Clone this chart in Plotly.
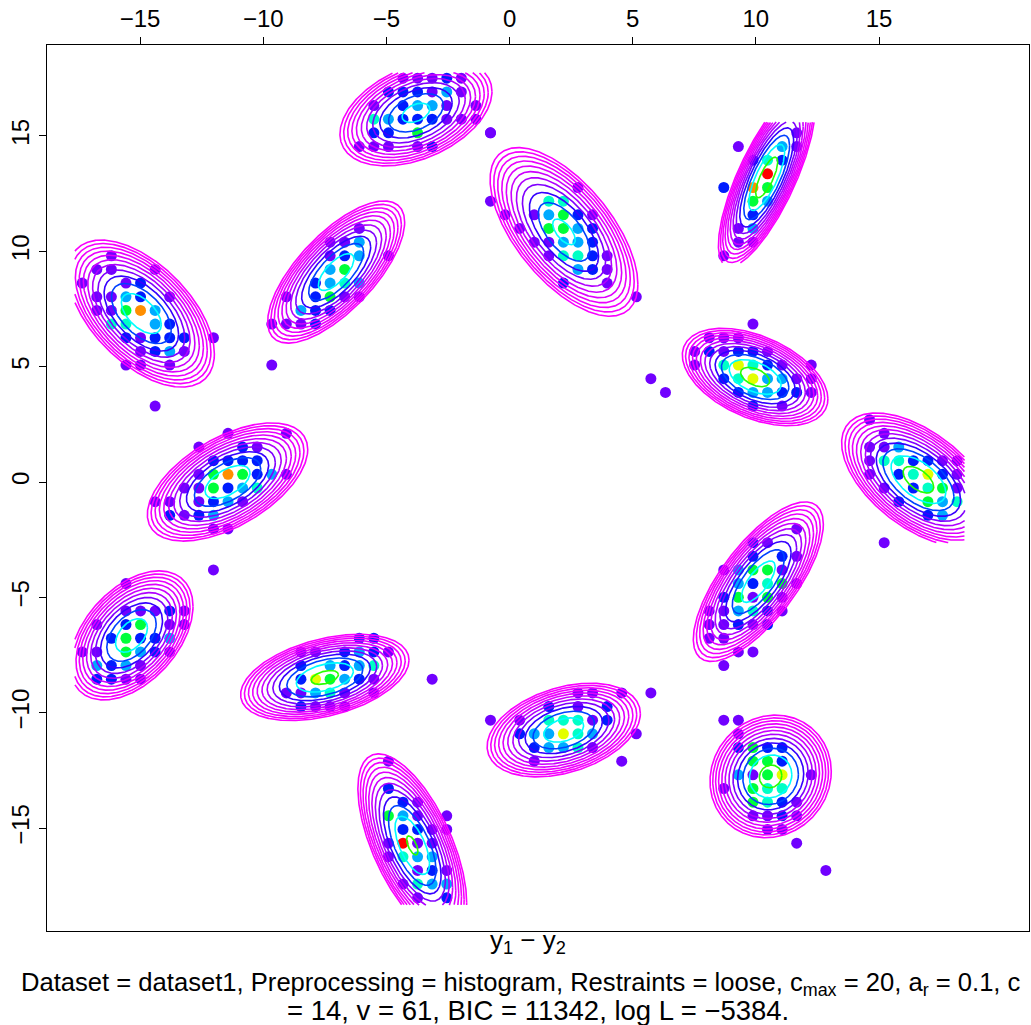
import colorsys
import numpy as np
import plotly.graph_objects as go

# ---------------- histogram (preprocessed data) ----------------
BIN_X0 = -17.35     # centre of column 0
BIN_Y0 = -18.02     # centre of row 0
BIN_W = 0.592       # bin width (both dims)
COUNT_MAX = 9

# each cluster: (first column index, top row index, rows of counts from top row downward)
HIST_A = (0, 47, ["..1.......", ".11..1....", "1..12.....", ".1132.1...", ".11583....",
                  "..44.32...", "...21222.1", "....1231..", "...11.1..."])
HIST_B = (13, 49, ["......1..", "....113..", "....123.1", "....35...", "...2343..",
                   ".1.2511..", "..322....", "1112....."])
HIST_C = (19, 60, ["...11121..", "..222131..", ".1.2331.1.", ".43222111.", ".22.5....1",
                   "111.12...."])
HIST_D = (28, 52, ["......1....", "1...44.....", ".1.13521...", "..1.5532...", "...11332...",
                   "....14421..", "......321..", ".....2..1..", "..........1"])
HIST_E = (44, 56, [".....1", ".1..31", "..242.", "...9..", "2.85..", "..53..", "..2...",
                   ".13...", ".11...", "1....."])
HIST_F = (42, 42, ["....1....", ".111.....", "121221...", "1.47421.1", "..2473311",
                   "...233221", "....2.1.."])
HIST_G = (54, 35, ["1......", ".1.....", "113....", "1442211", "1.24721", ".1.2451",
                   "..2.534", "....23.", ".......", ".1....."])
HIST_H = (5, 34, [".....1...1", "...1..21..", "....2222..", "...1585231", "..115234..",
                  "11.1231...", ".2123.....", "....11...."])
HIST_J = (0, 23, ["...1....", "........", "...11121", ".1.25.11", "..25223.", "11.5321.",
                  ".3231...", ".2211..."])
HIST_K = (14, 19, [".....22.", ".11.2321", ".2.3234.", ".275321.", "11341.1.", ".2111..."])
HIST_L = (28, 15, ["......11.1.", "....2.1.2..", "1.1.44412..", "..233743..1", "...23341...",
                   "...1.....1."])
HIST_M = (43, 27, ["......1", "...21..", "...2.21", ".13551.", "..32451", ".25151.",
                   "113421.", "11212..", "11.....", "..11...", ".1....."])
HIST_N = (21, 10, ["1....", ".....", "2....", ".21..", "531.1", ".2211", "1911.", "1433.",
                   "..121", ".1433", "..1.2"])
HIST_P = (44, 13, ["11......", ".1......", ".2522...", "..552...", ".3157.1.", "1.544...",
                   "..5421..", "..1121..", "...11...", ".....1..", "........", ".......1"])
# isolated bins (count 1)
OUT_I = [5, 13, 28, 39, 40, 9, 24, 39]
OUT_J = [36, 39, 56, 38, 37, 24, 16, 15]

# ---------------- fitted normal components ----------------
COMP_MX = [-14.95, -7.04, -3.8, 2.21, 10.44, 9.97, 16.6, -11.45, -15.35, -7.5, 2.2, 10.1, -3.95, 10.6]
COMP_MY = [7.3, 9.1, 16.0, 10.84, 13.2, 4.55, 0.1, 0.0, -6.65, -8.47, -10.75, -4.32, -15.75, -12.76]
COMP_SX = [0.94, 0.885, 1.0, 0.977, 0.6, 0.91, 0.96, 1.03, 0.795, 1.06, 0.99, 0.84, 0.69, 0.76]
COMP_SY = [1.01, 0.98, 0.745, 1.19, 1.18, 0.65, 0.89, 0.81, 0.89, 0.58, 0.646, 1.10, 1.24, 0.82]
COMP_RHO = [-0.55, 0.7, 0.4, -0.62, 0.76, -0.45, -0.55, 0.55, 0.45, 0.4, 0.35, 0.72, -0.62, 0.08]
COMP_PEAK = [5.2, 5.0, 4.2, 4.0, 7.5, 7.0, 7.0, 5.3, 5.0, 6.5, 5.0, 5.0, 6.0, 6.8]
# evaluation region limits (None = free)
CLIP_X0 = [-17.65, None, None, None, None, None, None, None, -17.65, None, None, None, None, None]
CLIP_X1 = [None, None, None, None, None, None, 18.49, None, None, None, None, None, None, None]
CLIP_Y0 = [None, None, None, None, 9.5, None, -2.63, None, None, None, None, None, -18.34, None]
CLIP_Y1 = [None, None, 17.74, None, 15.6, None, None, None, None, None, None, None, None, None]

# contour levels (geometric)
N_LEVELS = 12
LEVEL_RATIO = 10 ** 0.2
LEVEL_TOP = COUNT_MAX / LEVEL_RATIO

X_TICKS = [-15, -10, -5, 0, 5, 10, 15]
Y_TICKS = [-15, -10, -5, 0, 5, 10, 15]
X_RANGE = [-18.78, 21.09]
Y_RANGE = [-19.46, 18.94]

CAPTION_1 = ("Dataset = dataset1, Preprocessing = histogram, Restraints = loose, "
             "c<sub>max</sub> = 20, a<sub>r</sub> = 0.1, c")
CAPTION_2 = "= 14, v = 61, BIC = 11342, log L = \u22125384."
X_LABEL = "y<sub>1</sub> \u2212 y<sub>2</sub>"

FONT = "Liberation Sans, Arial, Helvetica, sans-serif"


def dens_color(v):
    h = 5.0 / 6.0 * (1.0 - min(max(v / COUNT_MAX, 0.0), 1.0))
    r, g, b = colorsys.hsv_to_rgb(h, 1.0, 1.0)
    return "rgb(%d,%d,%d)" % (round(r * 255), round(g * 255), round(b * 255))


fig = go.Figure()

# ---- histogram points (drawn first, contours go over them) ----
px, py, pc = [], [], []
for i0, jtop, rows in [HIST_A, HIST_B, HIST_C, HIST_D, HIST_E, HIST_F, HIST_G,
                       HIST_H, HIST_J, HIST_K, HIST_L, HIST_M, HIST_N, HIST_P]:
    for r, row in enumerate(rows):
        for k, ch in enumerate(row):
            if ch != ".":
                px.append(BIN_X0 + BIN_W * (i0 + k))
                py.append(BIN_Y0 + BIN_W * (jtop - r))
                pc.append(int(ch))
for i, j in zip(OUT_I, OUT_J):
    px.append(BIN_X0 + BIN_W * i)
    py.append(BIN_Y0 + BIN_W * j)
    pc.append(1)

fig.add_trace(go.Scatter(
    x=px, y=py, mode="markers",
    marker=dict(size=11, color=[dens_color(v) for v in pc], line=dict(width=0)),
    hoverinfo="skip", showlegend=False,
))

# ---- iso-density lines of each normal component ----
levels = [LEVEL_TOP / LEVEL_RATIO ** (N_LEVELS - 1 - k) for k in range(N_LEVELS)]
t = np.linspace(0, 2 * np.pi, 481)
for L in levels:
    lx, ly = [], []
    for c in range(len(COMP_MX)):
        mx, my = COMP_MX[c], COMP_MY[c]
        sx, sy, rho, h = COMP_SX[c], COMP_SY[c], COMP_RHO[c], COMP_PEAK[c]
        if L >= h:
            continue
        r = np.sqrt(2 * np.log(h / L))
        ex = mx + r * sx * np.cos(t)
        ey = my + r * sy * (rho * np.cos(t) + np.sqrt(1 - rho * rho) * np.sin(t))
        inside = np.ones_like(t, dtype=bool)
        if CLIP_X0[c] is not None:
            inside &= ex >= CLIP_X0[c]
        if CLIP_X1[c] is not None:
            inside &= ex <= CLIP_X1[c]
        if CLIP_Y0[c] is not None:
            inside &= ey >= CLIP_Y0[c]
        if CLIP_Y1[c] is not None:
            inside &= ey <= CLIP_Y1[c]
        for a, b, ok in zip(ex, ey, inside):
            lx.append(round(float(a), 4) if ok else None)
            ly.append(round(float(b), 4) if ok else None)
        lx.append(None)
        ly.append(None)
    fig.add_trace(go.Scatter(
        x=lx, y=ly, mode="lines", line=dict(color=dens_color(L), width=1.6),
        connectgaps=False, hoverinfo="skip", showlegend=False,
    ))

axis_common = dict(showgrid=False, zeroline=False, showline=True, linecolor="black",
                   linewidth=1, mirror=True, ticks="outside", ticklen=7, tickwidth=1,
                   tickcolor="black", tickfont=dict(family=FONT, size=24, color="black"))
fig.update_layout(
    width=1031, height=1025,
    margin=dict(l=47, r=2, t=45, b=94),
    plot_bgcolor="white", paper_bgcolor="white",
    showlegend=False,
    xaxis=dict(range=X_RANGE, side="top", tickvals=X_TICKS,
               ticktext=[str(v).replace("-", "\u2212") for v in X_TICKS], **axis_common),
    yaxis=dict(range=Y_RANGE, tickvals=Y_TICKS, tickangle=-90,
               ticktext=[str(v).replace("-", "\u2212") for v in Y_TICKS], **axis_common),
    font=dict(family=FONT, size=24, color="black"),
    annotations=[
        dict(text=X_LABEL, xref="paper", yref="paper", x=0.49, y=-0.0124, yanchor="middle",
             showarrow=False, font=dict(family=FONT, size=26)),
        dict(text=CAPTION_1, xref="paper", yref="paper", x=-0.0285, xanchor="left",
             y=-0.0598, yanchor="middle", showarrow=False, font=dict(family=FONT, size=25.6)),
        dict(text=CAPTION_2, xref="paper", yref="paper", x=0.2424, xanchor="left",
             y=-0.0892, yanchor="middle", showarrow=False, font=dict(family=FONT, size=27.5)),
    ],
)

fig.write_html("out.html")
